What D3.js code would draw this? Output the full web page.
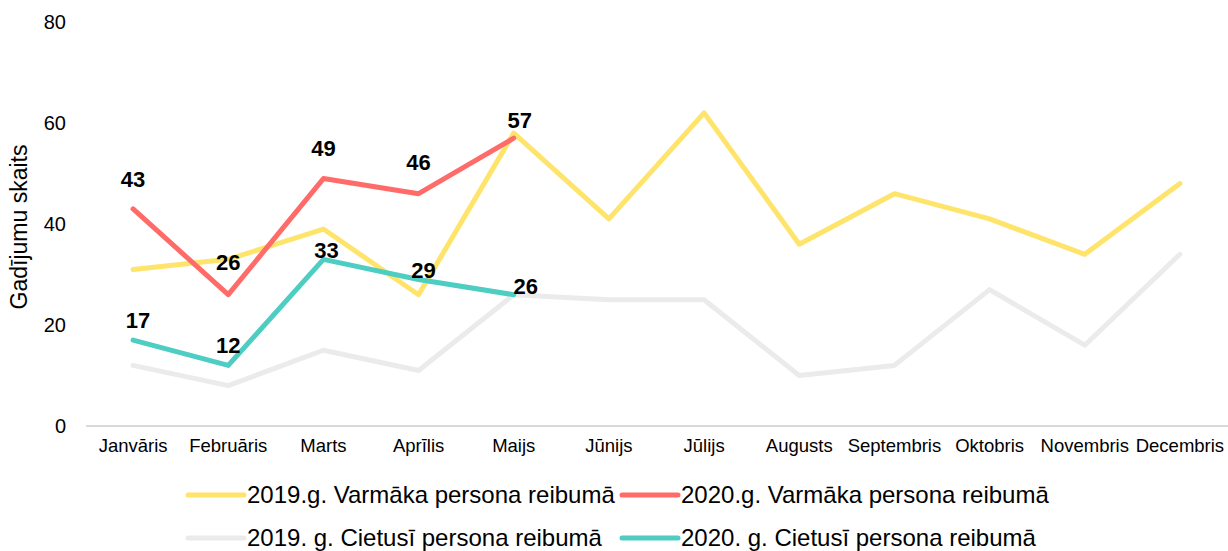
<!DOCTYPE html>
<html>
<head>
<meta charset="utf-8">
<script src="https://cdn.jsdelivr.net/npm/d3@7"></script>
<style>
  html, body { margin: 0; padding: 0; background: #fff; }
  svg { display: block; font-family: "Liberation Sans", Arial, sans-serif; }
</style>
</head>
<body>
<svg id="chart" width="1228" height="551"></svg>
<script>
const months = ["Janvāris","Februāris","Marts","Aprīlis","Maijs","Jūnijs","Jūlijs","Augusts","Septembris","Oktobris","Novembris","Decembris"];
const varmaka2019 = [31,33,39,26,58,41,62,36,46,41,34,48];
const cietusi2019 = [12,8,15,11,26,25,25,10,12,27,16,34];
const varmaka2020 = [43,26,49,46,57];
const cietusi2020 = [17,12,33,29,26];
const yTicks = [0,20,40,60,80];
const seriesNames = ["2019.g. Varmāka persona reibumā","2020.g. Varmāka persona reibumā","2019. g. Cietusī persona reibumā","2020. g. Cietusī persona reibumā"];
const yTitle = "Gadījumu skaits";

// label offsets (styling)
const redLabelOffsets = [[0,-30],[0,-32],[0,-30],[0,-31],[6,-18]];
const tealLabelOffsets = [[5,-20],[0,-20],[3,-9],[5,-9],[12,-8]];

const colors = {y19:"#FFE46B", r20:"#FF6B68", g19:"#EBEBEB", t20:"#4ECDC2"};

const svg = d3.select("#chart");
const x = d3.scalePoint().domain(months).range([85.5, 1227.5]).padding(0.5);
const y = d3.scaleLinear().domain([0,80]).range([426,22]);

// baseline
svg.append("line").attr("x1",86).attr("x2",1228).attr("y1",y(0)).attr("y2",y(0))
  .attr("stroke","#D9D9D9").attr("stroke-width",2);

// y ticks
svg.append("g").selectAll("text").data(yTicks).join("text")
  .attr("x",66).attr("y",d=>y(d)).attr("dy","0.35em").attr("text-anchor","end")
  .attr("font-size",20).attr("fill","#000").text(d=>d);

// x labels
svg.append("g").selectAll("text").data(months).join("text")
  .attr("x",d=>x(d)).attr("y",446).attr("dy","0.35em").attr("text-anchor","middle")
  .attr("font-size",18.5).attr("fill","#000").text(d=>d);

// axis title
svg.append("text").attr("transform","translate(27,227) rotate(-90)")
  .attr("text-anchor","middle").attr("font-size",23).attr("fill","#000").text(yTitle);

const line = d3.line().x((d,i)=>x(months[i])).y(d=>y(d));
function drawLine(data,color){
  svg.append("path").datum(data).attr("d",line).attr("fill","none")
    .attr("stroke",color).attr("stroke-width",5).attr("stroke-linejoin","round").attr("stroke-linecap","round");
}
drawLine(cietusi2019, colors.g19);
drawLine(varmaka2019, colors.y19);
drawLine(varmaka2020, colors.r20);
drawLine(cietusi2020, colors.t20);

function drawLabels(data, offs){
  svg.append("g").selectAll("text").data(data).join("text")
    .attr("x",(d,i)=>x(months[i])+offs[i][0]).attr("y",(d,i)=>y(d)+offs[i][1])
    .attr("dy","0.35em").attr("text-anchor","middle")
    .attr("font-size",22).attr("font-weight","bold").attr("fill","#000").text(d=>d);
}
drawLabels(varmaka2020, redLabelOffsets);
drawLabels(cietusi2020, tealLabelOffsets);

// legend
const legendItems = [
  {name:seriesNames[0], color:colors.y19, lx:188, ly:495},
  {name:seriesNames[1], color:colors.r20, lx:622, ly:495},
  {name:seriesNames[2], color:colors.g19, lx:188, ly:538},
  {name:seriesNames[3], color:colors.t20, lx:622, ly:538}
];
const lg = svg.append("g").selectAll("g").data(legendItems).join("g");
lg.append("line").attr("x1",d=>d.lx).attr("x2",d=>d.lx+56).attr("y1",d=>d.ly).attr("y2",d=>d.ly)
  .attr("stroke",d=>d.color).attr("stroke-width",5).attr("stroke-linecap","round");
lg.append("text").attr("x",d=>d.lx+59).attr("y",d=>d.ly).attr("dy","0.35em")
  .attr("font-size",24).attr("fill","#000").text(d=>d.name);
</script>
</body>
</html>
